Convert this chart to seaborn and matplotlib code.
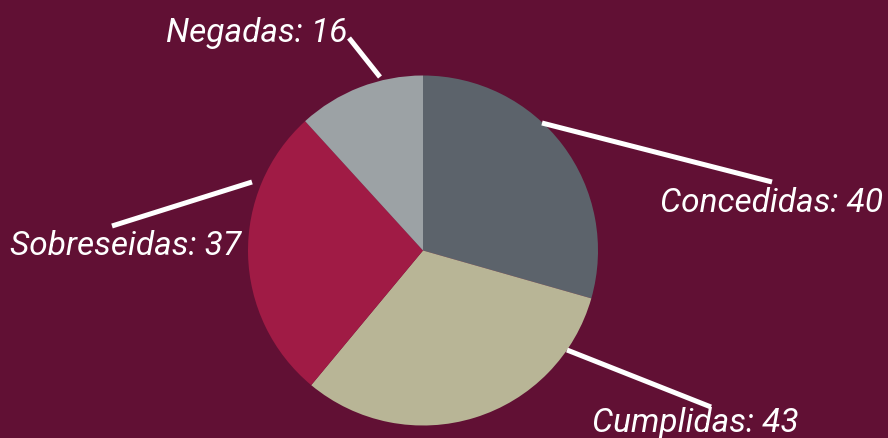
import matplotlib
matplotlib.use("Agg")
import matplotlib.pyplot as plt
import seaborn as sns

categories = ["Concedidas", "Cumplidas", "Sobreseidas", "Negadas"]
values = [40, 43, 37, 16]
colors = ["#5c636b", "#b8b596", "#a01b45", "#9ca2a5"]

BG = "#611034"
sns.set_style("white", {"axes.facecolor": BG, "figure.facecolor": BG})
plt.rcParams["font.family"] = ["Roboto", "DejaVu Sans"]

W, H = 888, 438
CX, CY, R = 423, 250.5, 175.0

fig = plt.figure(figsize=(W / 100, H / 100), dpi=100, facecolor=BG)
ax = fig.add_axes([0, 0, 1, 1])
ax.set_facecolor(BG)

ax.pie(values, colors=colors, startangle=90, counterclock=False,
       radius=1.0, center=(0, 0), wedgeprops=dict(linewidth=0))

def px(x, y):
    return (x - CX) / R, (CY - y) / R

ax.set_xlim(px(0, 0)[0], px(W, 0)[0])
ax.set_ylim(px(0, H)[1], px(0, 0)[1])
ax.set_aspect("equal")
ax.axis("off")

# leader lines and label layout (pixel positions)
layout = {
    "Concedidas": ((542, 123), (772, 182), (660, 212)),
    "Cumplidas": ((567, 350), (711, 407), (592, 432)),
    "Sobreseidas": ((252, 182), (112, 226), (10, 255)),
    "Negadas": ((380, 77), (349, 38), (166, 42)),
}
for cat, val in zip(categories, values):
    (x0, y0), (x1, y1), (tx, ty) = layout[cat]
    a, b = px(x0, y0)
    c, d = px(x1, y1)
    ax.plot([a, c], [b, d], color="white", lw=3.6, solid_capstyle="butt")
    t1, t2 = px(tx, ty)
    ax.text(t1, t2, f"{cat}: {val}", color="white", fontsize=24,
            fontstyle="italic", ha="left", va="baseline")

fig.savefig("out.png", dpi=100, facecolor=BG)
